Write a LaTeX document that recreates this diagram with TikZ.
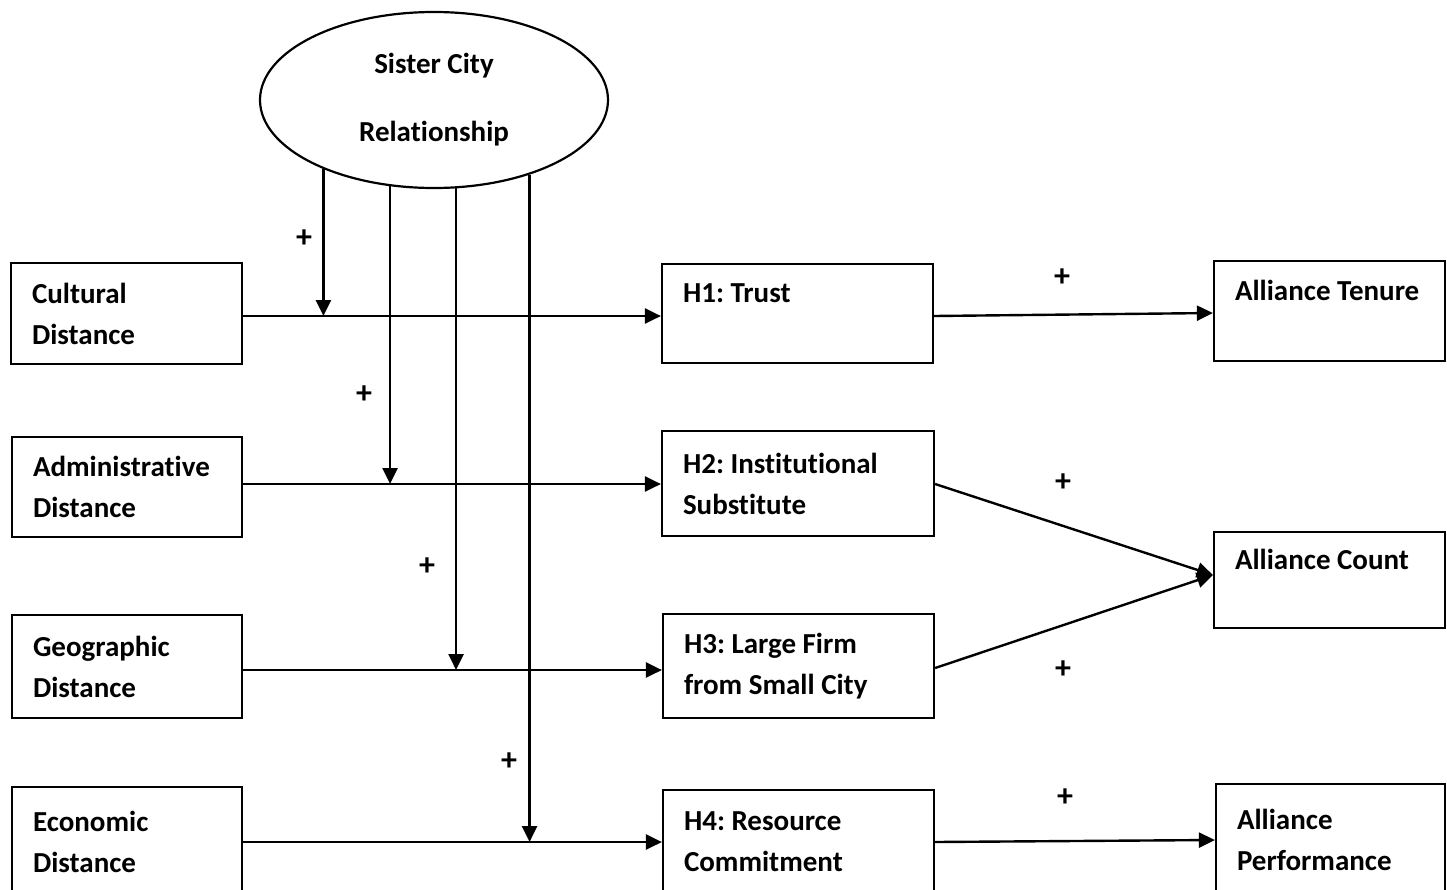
\documentclass[tikz,border=0pt]{standalone}
\usepackage{fontspec}
\setmainfont[Ligatures=NoCommon]{Carlito}
\usetikzlibrary{shapes.geometric,arrows.meta}
\tikzset{
  bx/.style={draw, line width=2.2pt, rectangle, inner xsep=21pt, inner ysep=0pt,
    align=flush left, font=\fontsize{29}{41}\selectfont\bfseries\frenchspacing},
  conn/.style={line width=2.4pt},
  arr/.style={conn, -{Triangle[length=16pt,width=15pt]}},
  plus/.style={font=\fontsize{32}{34}\selectfont\bfseries, inner sep=0pt},
}
\newcommand{\mybox}[6]{% name, x1, y1, x2, y2, text
  \pgfmathsetmacro{\cx}{(#2+#4)/2}\pgfmathsetmacro{\cy}{(#3+#5)/2}%
  \pgfmathsetmacro{\ww}{#4-#2}\pgfmathsetmacro{\hh}{#5-#3}\pgfmathsetmacro{\tw}{#4-#2-42}%
  \node[bx, minimum width=\ww pt, minimum height=\hh pt, text width=\tw pt] (#1) at (\cx,\cy) {#6};}
\begin{document}
\begin{tikzpicture}[x=1pt,y=-1pt]
\useasboundingbox (0,0) rectangle (1447,889);
% ellipse
\node[draw, ellipse, line width=2.2pt, minimum width=348pt, minimum height=176pt, inner sep=0pt,
  align=center, font=\fontsize{29}{41}\selectfont\bfseries] (sc) at (434,100) {Sister City\\[27pt]Relationship};
% left boxes
\mybox{cd}{11}{263}{242}{364}{Cultural\\Distance}
\mybox{ad}{12}{437}{242}{537}{Administrative\\Distance}
\mybox{gd}{12}{615}{242}{718}{Geographic\\Distance}
\mybox{ed}{12}{787}{242}{897}{Economic\\Distance}
% middle boxes
\mybox{h1}{662}{264}{933}{363}{H1: Trust\\\mbox{}}
\mybox{h2}{662}{431}{934}{536}{H2: Institutional\\Substitute}
\mybox{h3}{663}{614}{934}{718}{H3: Large Firm\\from Small City}
\mybox{h4}{663}{790}{934}{894}{H4: Resource\\Commitment}
% right boxes
\mybox{at}{1214}{261}{1445}{361}{Alliance Tenure\\\mbox{}}
\mybox{ac}{1214}{532}{1445}{628}{Alliance Count\\\mbox{}}
\mybox{ap}{1216}{784}{1445}{896}{Alliance\\Performance}
% meeting points
\coordinate (m1) at (327,316);
\coordinate (m2) at (392,484);
\coordinate (m3) at (457,670);
\coordinate (m4) at (529,842);
% horizontal arrows
\draw[arr] (cd.east |- m1) -- (h1.west |- m1);
\draw[arr] (ad.east |- m2) -- (h2.west |- m2);
\draw[arr] (gd.east |- m3) -- (h3.west |- m3);
\draw[arr] (ed.east |- m4) -- (h4.west |- m4);
% moderating arrows
\draw[arr] (sc.212.8) -- (sc.212.8 |- m1);
\draw[arr] (sc.243.7) -- (sc.243.7 |- m2);
\draw[arr] (sc.284.8) -- (sc.284.8 |- m3);
\draw[arr] (sc.322.1) -- (sc.322.1 |- m4);
% outcomes
\draw[arr] (h1.east |- m1) -- ([yshift=-2pt]at.west);
\draw[arr] ([yshift=-0.5pt]h2.east) -- ([yshift=5pt]ac.west);
\draw[arr] ([yshift=-2pt]h3.east) -- ([yshift=5pt]ac.west);
\draw[arr] (h4.east) -- (ap.west);
% plus signs
\node[plus] (p1) at (304,239) {+};
\node[plus] (p2) at (364,395) {+};
\node[plus] (p3) at (427,567) {+};
\node[plus] (p4) at (509,762) {+};
\node[plus] (p5) at (1062,278) {+};
\node[plus] (p6) at (1063,483) {+};
\node[plus] (p7) at (1063,670) {+};
\node[plus] (p8) at (1065,798) {+};
\end{tikzpicture}
\end{document}
